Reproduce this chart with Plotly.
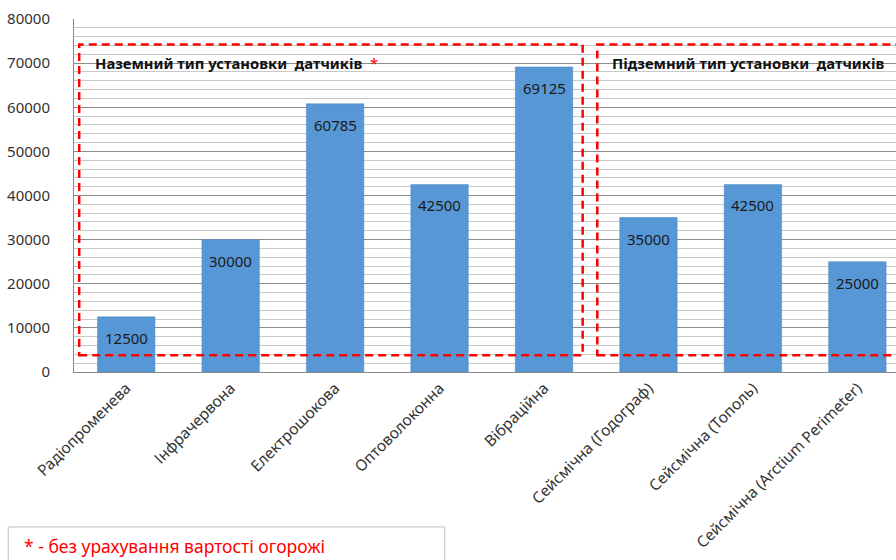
import plotly.graph_objects as go

# Sensor types and their cost
categories = [
    "Радіопроменева",
    "Інфрачервона",
    "Електрошокова",
    "Оптоволоконна",
    "Вібраційна",
    "Сейсмічна (Годограф)",
    "Сейсмічна (Тополь)",
    "Сейсмічна (Arctium Perimeter)",
]
costs = [12500, 30000, 60785, 42500, 69125, 35000, 42500, 25000]

y_ticks = [0, 10000, 20000, 30000, 40000, 50000, 60000, 70000, 80000]

FONT = "Noto Sans"

fig = go.Figure()
fig.add_trace(go.Bar(
    x=categories,
    y=costs,
    width=0.55,
    marker=dict(color="#5797d6", line=dict(color="#4a87c2", width=0.5)),
    cliponaxis=False,
))

# Value labels placed just inside the top of each bar
for cat, val in zip(categories, costs):
    fig.add_annotation(x=cat, y=val, xref="x", yref="y", yanchor="middle", yshift=-21,
                       showarrow=False, text=str(val),
                       font=dict(family=FONT, size=15, color="#1a1a1a"))

# Dashed group frames (above-ground / underground installation)
dash_line = dict(color="#ff0000", width=2.5, dash="8px,5px")
fig.add_shape(type="rect", xref="x", yref="y", x0=-0.45, x1=4.37, y0=3800, y1=74200,
              line=dash_line, fillcolor="rgba(0,0,0,0)", layer="above")
fig.add_shape(type="rect", xref="x", yref="y", x0=4.51, x1=7.6, y0=3800, y1=74200,
              line=dash_line, fillcolor="rgba(0,0,0,0)", layer="above")

fig.add_annotation(x=-0.32, y=70000, xref="x", yref="y", xanchor="left", yanchor="middle",
                   showarrow=False,
                   text="<b>Наземний тип установки  датчиків</b>  <span style='color:#ff0000'>*</span>",
                   font=dict(family=FONT, size=14.8, color="#111111"))
fig.add_annotation(x=4.63, y=70000, xref="x", yref="y", xanchor="left", yanchor="middle",
                   showarrow=False,
                   text="<b>Підземний тип установки  датчиків</b>",
                   font=dict(family=FONT, size=14.8, color="#111111"))

# Footnote box
fig.add_shape(type="rect", xref="paper", yref="paper", x0=-0.080, x1=0.451, y0=-0.58, y1=-0.439,
              line=dict(color="#bfbfbf", width=1), fillcolor="white", layer="above")
fig.add_annotation(x=-0.063, y=-0.492, xref="paper", yref="paper", xanchor="left", yanchor="middle",
                   showarrow=False, text="* - без урахування вартості огорожі",
                   font=dict(family=FONT, size=17.5, color="#ff0000"))

fig.update_layout(
    width=896, height=560,
    margin=dict(l=74, r=0, t=19, b=188),
    paper_bgcolor="white", plot_bgcolor="white",
    showlegend=False,
    font=dict(family=FONT, color="#404040"),
)
fig.update_xaxes(
    range=[-0.5, 7.37],
    tickangle=-45,
    tickfont=dict(family=FONT, size=15.5, color="#333333"),
    showline=True, linecolor="#888888", linewidth=1,
    showgrid=False, ticks="",
)
fig.update_yaxes(
    range=[0, 80000],
    tickvals=y_ticks,
    ticktext=[str(v) for v in y_ticks],
    tickfont=dict(family=FONT, size=15, color="#333333"),
    showline=True, linecolor="#888888", linewidth=1,
    showgrid=True, gridcolor="#8c8c8c", gridwidth=1,
    minor=dict(dtick=2000, showgrid=True, gridcolor="#c8c8c8", gridwidth=1),
    zeroline=False,
    ticks="", ticklabelstandoff=20,
)

fig.write_html("out.html")
